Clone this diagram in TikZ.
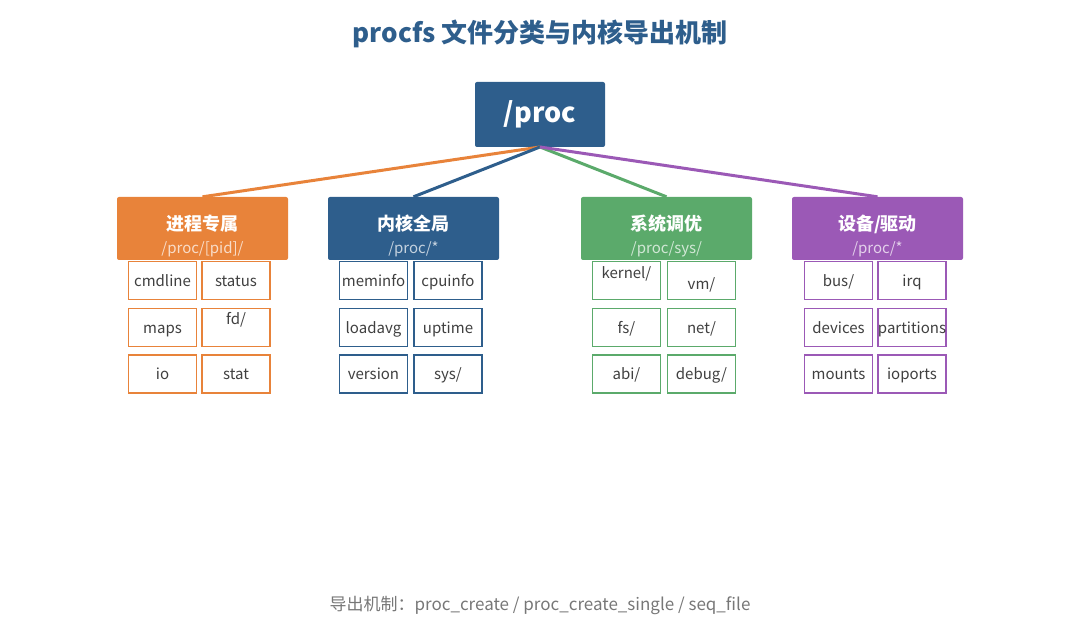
\documentclass[tikz,border=0pt]{standalone}
\usepackage{fontspec}
\setmainfont{Noto Sans CJK SC}
\definecolor{cOr}{HTML}{E8833A}
\definecolor{cBl}{HTML}{2E5E8C}
\definecolor{cGr}{HTML}{5BAA6B}
\definecolor{cPu}{HTML}{9B59B6}
\definecolor{ttl}{HTML}{2E5E8C}
\definecolor{txt}{HTML}{404040}
\definecolor{foot}{HTML}{777777}
\tikzset{
  rootbox/.style={fill=cBl, rounded corners=2pt, minimum width=130pt, minimum height=65pt, inner sep=0pt},
  catbox/.style={fill=#1, rounded corners=2pt, minimum width=171pt, minimum height=63pt, inner sep=0pt},
  leafbox/.style={draw=#1, line width=1.5pt, fill=white, minimum width=68pt, minimum height=38pt, inner sep=0pt},
  leaftext/.style={text=txt, font=\fontsize{15}{17}\selectfont, text height=11pt, text depth=3.5pt, inner sep=0pt, yshift=-2pt},
  conn/.style={draw=#1, line width=3pt},
}
\begin{document}
\begin{tikzpicture}[x=1pt,y=-1pt]
\useasboundingbox (0,0) rectangle (1080,644);
\node[text=ttl, font=\fontsize{26}{30}\selectfont\bfseries] (title) at (540,34) {procfs 文件分类与内核导出机制};
\node[rootbox] (root) at (540,114.5) {};
\node[text=white, font=\fontsize{27}{30}\selectfont\bfseries] (roottxt) at (540,114) {/proc};
\coordinate (rb) at (540,147);
% category boxes
\foreach \nm/\cx/\col/\tt/\st in {cA/202.5/cOr/{进程专属}/{/proc/[pid]/}, cB/413.5/cBl/{内核全局}/{/proc/*}, cC/666.5/cGr/{系统调优}/{/proc/sys/}, cD/877.5/cPu/{设备/驱动}/{/proc/*}}{
  \node[catbox=\col] (\nm) at (\cx,228.5) {};
  \node[text=white, font=\fontsize{18}{20}\selectfont\bfseries, text height=14pt, text depth=3pt, inner sep=0pt] (\nm t) at (\cx,225) {\tt};
  \node[text=white, opacity=0.72, font=\fontsize{15}{17}\selectfont, text height=11pt, text depth=3.5pt, inner sep=0pt] (\nm s) at (\cx,250) {\st};
}
\draw[conn=cOr] (rb) -- (cA.north);
\draw[conn=cBl] (rb) -- (cB.north);
\draw[conn=cGr] (rb) -- (cC.north);
\draw[conn=cPu] (rb) -- (cD.north);
% orange
\foreach \nm/\x/\y/\t/\dy in {a1/162.5/280.5/{cmdline}/0, a2/236/280.5/{status}/0, a3/162.5/327.5/{maps}/0, a4/236/327.5/{fd/}/-9, a5/162.5/374/{io}/0, a6/236/374/{stat}/0}{
  \node[leafbox=cOr] (\nm) at (\x,\y) {};
  \node[leaftext] (\nm t) at (\x,\y+\dy) {\t};
}
% blue
\foreach \nm/\x/\y/\t/\dy in {b1/373.5/280.5/{meminfo}/0, b2/448/280.5/{cpuinfo}/0, b3/373.5/327.5/{loadavg}/0, b4/448/327.5/{uptime}/0, b5/373.5/374/{version}/0, b6/448/374/{sys/}/0}{
  \node[leafbox=cBl] (\nm) at (\x,\y) {};
  \node[leaftext] (\nm t) at (\x,\y+\dy) {\t};
}
% green
\foreach \nm/\x/\y/\t/\dy in {c1/626.5/280.5/{kernel/}/-8, c2/701.5/280.5/{vm/}/3, c3/626.5/327.5/{fs/}/0, c4/701.5/327.5/{net/}/0, c5/626.5/374/{abi/}/0, c6/701.5/374/{debug/}/0}{
  \node[leafbox=cGr] (\nm) at (\x,\y) {};
  \node[leaftext] (\nm t) at (\x,\y+\dy) {\t};
}
% purple
\foreach \nm/\x/\y/\t/\dy in {d1/838.5/280.5/{bus/}/0, d2/912/280.5/{irq}/0, d3/838.5/327.5/{devices}/0, d4/912/327.5/{partitions}/0, d5/838.5/374/{mounts}/0, d6/912/374/{ioports}/0}{
  \node[leafbox=cPu] (\nm) at (\x,\y) {};
  \node[leaftext] (\nm t) at (\x,\y+\dy) {\t};
}
\node[text=foot, font=\fontsize{17}{20}\selectfont] (footer) at (540,605) {导出机制：proc\_create / proc\_create\_single / seq\_file};
\end{tikzpicture}
\end{document}
